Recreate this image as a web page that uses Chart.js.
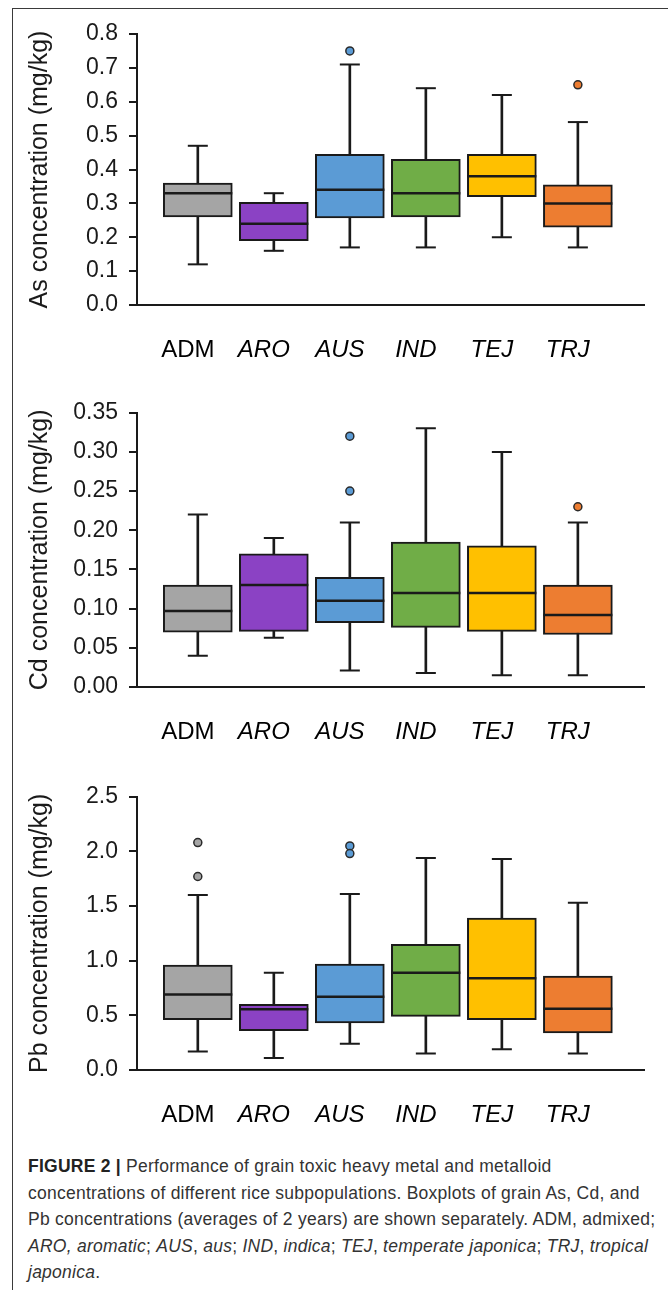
<!DOCTYPE html>
<html>
<head>
<meta charset="utf-8">
<script src="https://cdn.jsdelivr.net/npm/chart.js@4.4.0/dist/chart.umd.min.js"></script>
<style>
  html, body { margin: 0; padding: 0; background: #fff; width: 668px; height: 1290px; overflow: hidden; }
  #frame { position: absolute; left: 12px; top: 8px; width: 700px; height: 1300px; border-left: 1px solid #3a3a3a; border-top: 1px solid #3a3a3a; }
  .holder { position: absolute; left: 0; width: 668px; }
  canvas { display: block; }
  #caption { position: absolute; left: 28px; top: 1153px; font-family: 'Liberation Sans', Arial, sans-serif; font-size: 17.5px; letter-spacing: 0.25px; line-height: 26.5px; color: #333; white-space: nowrap; }
  #caption b { color: #222; }
</style>
</head>
<body>
<div id="frame"></div>
<div class="holder" style="top:0px"><canvas id="cAs" width="668" height="365"></canvas></div>
<div class="holder" style="top:370px"><canvas id="cCd" width="668" height="377"></canvas></div>
<div class="holder" style="top:750px"><canvas id="cPb" width="668" height="380"></canvas></div>
<div id="caption">
<div><b>FIGURE 2 |</b> Performance of grain toxic heavy metal and metalloid</div>
<div>concentrations of different rice subpopulations. Boxplots of grain As, Cd, and</div>
<div>Pb concentrations (averages of 2 years) are shown separately. ADM, admixed;</div>
<div><i>ARO, aromatic</i>; <i>AUS</i>, <i>aus</i>; <i>IND</i>, <i>indica</i>; <i>TEJ</i>, <i>temperate japonica</i>; <i>TRJ</i>, <i>tropical</i></div>
<div><i>japonica</i>.</div>
</div>
<script>
// ---------- data ----------
const categories = ['ADM', 'ARO', 'AUS', 'IND', 'TEJ', 'TRJ'];
const italicCategory = [false, true, true, true, true, true];
const boxColors = ['#a5a5a5', '#8b42c4', '#5b9bd5', '#70ad47', '#ffc000', '#ed7d31'];

const asMin    = [0.12, 0.16, 0.17, 0.17, 0.20, 0.17];
const asQ1     = [0.26, 0.19, 0.257, 0.26, 0.32, 0.23];
const asMedian = [0.33, 0.24, 0.34, 0.33, 0.38, 0.30];
const asQ3     = [0.36, 0.303, 0.445, 0.43, 0.445, 0.355];
const asMax    = [0.47, 0.33, 0.71, 0.64, 0.62, 0.54];
const asOutliers = [[], [], [0.75], [], [], [0.65]];
const asTicks  = [0.0, 0.1, 0.2, 0.3, 0.4, 0.5, 0.6, 0.7, 0.8];

const cdMin    = [0.040, 0.063, 0.021, 0.018, 0.015, 0.015];
const cdQ1     = [0.070, 0.071, 0.082, 0.076, 0.071, 0.067];
const cdMedian = [0.097, 0.130, 0.110, 0.120, 0.120, 0.092];
const cdQ3     = [0.130, 0.170, 0.140, 0.185, 0.180, 0.130];
const cdMax    = [0.220, 0.190, 0.210, 0.330, 0.300, 0.210];
const cdOutliers = [[], [], [0.32, 0.25], [], [], [0.23]];
const cdTicks  = [0.00, 0.05, 0.10, 0.15, 0.20, 0.25, 0.30, 0.35];

const pbMin    = [0.17, 0.11, 0.24, 0.15, 0.19, 0.15];
const pbQ1     = [0.46, 0.36, 0.43, 0.49, 0.46, 0.34];
const pbMedian = [0.69, 0.555, 0.67, 0.89, 0.84, 0.56];
const pbQ3     = [0.96, 0.60, 0.97, 1.15, 1.39, 0.86];
const pbMax    = [1.60, 0.89, 1.61, 1.94, 1.93, 1.53];
const pbOutliers = [[2.08, 1.77], [], [2.05, 1.98], [], [], []];
const pbTicks  = [0.0, 0.5, 1.0, 1.5, 2.0, 2.5];

// ---------- chart builder ----------
const FONT = "'Liberation Sans', Arial, Helvetica, sans-serif";
const INK = '#1a1a1a';

function boxChart(id, s) {
  const xOf = i => i + 1;
  const stems = s.min.map((v, i) => ({ x: xOf(i), y: [v, s.max[i]] }));
  const boxes = s.q1.map((v, i) => ({ x: xOf(i), y: [v, s.q3[i]] }));
  const medians = s.median.map((v, i) => ({ x: xOf(i), y: v }));
  const caps = [];
  s.min.forEach((v, i) => { caps.push({ x: xOf(i), y: v }); caps.push({ x: xOf(i), y: s.max[i] }); });
  const outPts = [], outCols = [];
  s.outliers.forEach((arr, i) => arr.forEach(v => { outPts.push({ x: xOf(i), y: v }); outCols.push(boxColors[i]); }));

  return new Chart(document.getElementById(id), {
    type: 'bar',
    data: {
      datasets: [
        { type: 'scatter', data: outPts, pointStyle: 'circle', pointRadius: 4, pointBackgroundColor: outCols,
          pointBorderColor: '#2a2a2a', pointBorderWidth: 1.5, order: 0 },
        { type: 'scatter', data: medians, pointStyle: 'line', pointRadius: 34.5, pointBorderColor: INK,
          pointBorderWidth: 2.5, order: 1 },
        { type: 'scatter', data: caps, pointStyle: 'line', pointRadius: 10, pointBorderColor: INK,
          pointBorderWidth: 2, order: 2 },
        { type: 'bar', data: boxes, backgroundColor: boxColors, borderColor: INK, borderWidth: 2,
          borderSkipped: false, barThickness: 69, grouped: false, order: 3 },
        { type: 'bar', data: stems, backgroundColor: INK, borderWidth: 0, barThickness: 2,
          grouped: false, order: 4 }
      ]
    },
    options: {
      responsive: false,
      animation: false,
      devicePixelRatio: 1,
      events: [],
      layout: { autoPadding: false, padding: { top: s.padTop, right: 24, bottom: 0, left: 0 } },
      plugins: { legend: { display: false }, tooltip: { enabled: false } },
      scales: {
        x: {
          type: 'linear', min: 0.2, max: 6.87, offset: false,
          afterBuildTicks: a => { a.ticks = categories.map((c, i) => ({ value: i + 1 })); },
          afterFit: a => { a.height = 60; a.paddingLeft = 0; a.paddingRight = 0; },
          ticks: {
            autoSkip: false, maxRotation: 0, padding: 23, labelOffset: -10, color: '#000',
            callback: v => categories[Math.round(v) - 1],
            font: ctx => ({ family: FONT, size: 24, style: italicCategory[ctx.index] ? 'italic' : 'normal' })
          },
          grid: { display: false, offset: false },
          border: { display: true, color: INK, width: 2 }
        },
        y: {
          min: s.ticks[0], max: s.ticks[s.ticks.length - 1],
          afterBuildTicks: a => { a.ticks = s.ticks.map(v => ({ value: v })); },
          afterFit: a => { a.width = 137; },
          ticks: {
            padding: 11, color: INK,
            font: { family: FONT, size: 23 },
            callback: v => v.toFixed(s.digits)
          },
          grid: { drawOnChartArea: false, drawTicks: true, tickLength: 8, color: INK, lineWidth: 2 },
          border: { display: true, color: INK, width: 2 },
          title: { display: true, text: s.title, color: INK, font: { family: FONT, size: 25 },
                   padding: { top: 25, bottom: 0 } }
        }
      }
    }
  });
}

boxChart('cAs', { min: asMin, q1: asQ1, median: asMedian, q3: asQ3, max: asMax, outliers: asOutliers,
  ticks: asTicks, digits: 1, title: 'As concentration (mg/kg)', padTop: 34 });
boxChart('cCd', { min: cdMin, q1: cdQ1, median: cdMedian, q3: cdQ3, max: cdMax, outliers: cdOutliers,
  ticks: cdTicks, digits: 2, title: 'Cd concentration (mg/kg)', padTop: 42.7 });
boxChart('cPb', { min: pbMin, q1: pbQ1, median: pbMedian, q3: pbQ3, max: pbMax, outliers: pbOutliers,
  ticks: pbTicks, digits: 1, title: 'Pb concentration (mg/kg)', padTop: 46.7 });
</script>
</body>
</html>
